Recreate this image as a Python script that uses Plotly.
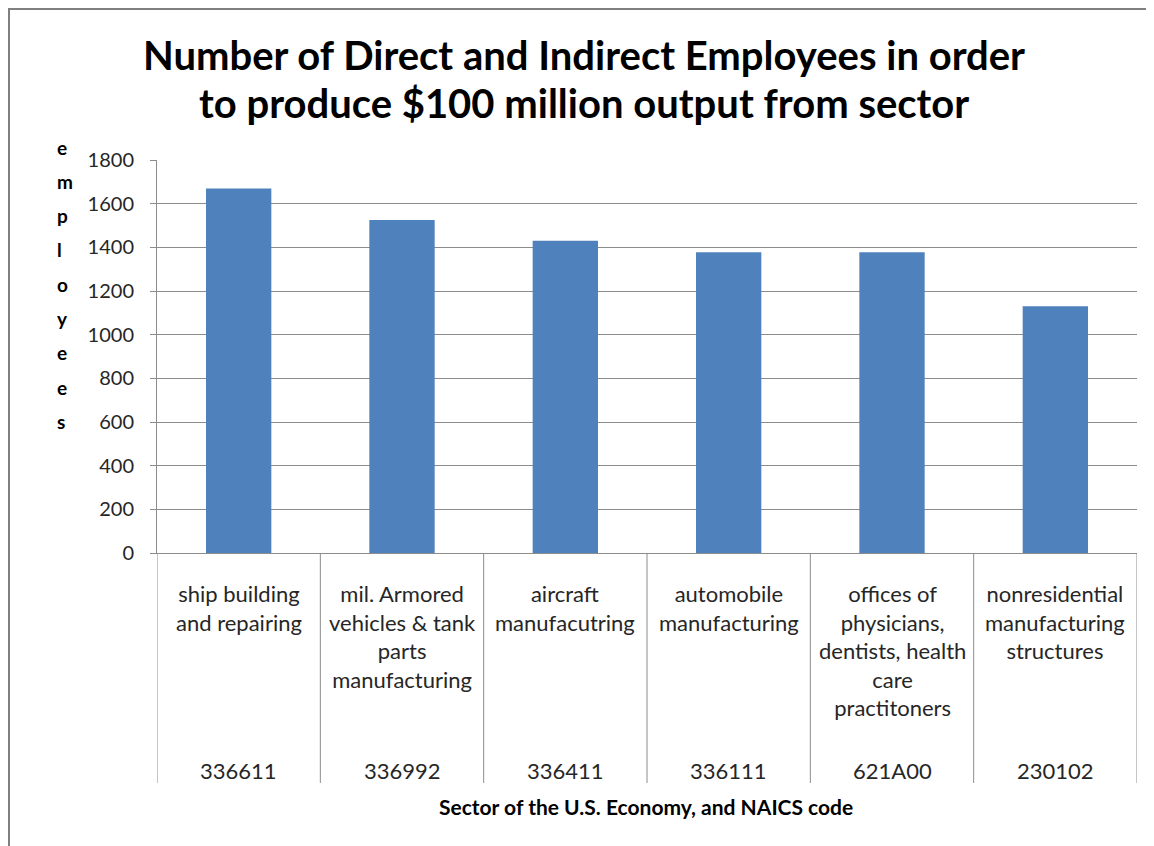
"""
Employees per $100M output by sector - Excel style bar chart with data table
"""

import plotly.graph_objects as go

sectors = [
    'ship building<br>and repairing',
    'mil. Armored<br>vehicles & tank<br>parts<br>manufacturing',
    'aircraft<br>manufacutring',
    'automobile<br>manufacturing',
    'offices of<br>physicians,<br>dentists, health<br>care<br>practitoners',
    'nonresidential<br>manufacturing<br>structures',
]
naics_codes = ['336611', '336992', '336411', '336111', '621A00', '230102']
employees = [1670, 1525, 1430, 1378, 1378, 1130]
y_ticks = [0, 200, 400, 600, 800, 1000, 1200, 1400, 1600, 1800]

OFF = 8                      # page body margin
W, H = 1154 - OFF, 846 - OFF
L, R, T, B = 157 - OFF, 1137 - OFF, 160 - OFF, 553 - OFF   # plot area in pixels
FONT = 'Lato'
GRID = '#8c8c8c'


def py(p):
    """reference pixel row -> paper y"""
    return (B - (p - OFF)) / (B - T)


def px(p):
    """reference pixel column -> paper x"""
    return ((p - OFF) - L) / (R - L)


x_idx = list(range(len(sectors)))

fig = go.Figure()
fig.add_trace(go.Bar(
    x=x_idx,
    y=employees,
    marker=dict(color='#4f81bd', line=dict(width=0)),
    width=0.4,
    showlegend=False,
    hoverinfo='y',
))

# data table under the plot
for i, (name, code) in enumerate(zip(sectors, naics_codes)):
    fig.add_annotation(x=i, y=py(578), xref='x', yref='paper', text=name,
                       showarrow=False, yanchor='top', align='center',
                       font=dict(family=FONT, size=22, color='#262626'))
    fig.add_annotation(x=i, y=py(770), xref='x', yref='paper', text=code,
                       showarrow=False, yanchor='middle',
                       font=dict(family=FONT, size=22, color='#262626'))

shapes = []
for k in range(len(sectors) + 1):
    shapes.append(dict(type='line', xref='x', yref='paper', x0=k - 0.5, x1=k - 0.5,
                       y0=0, y1=py(783), line=dict(color=GRID, width=1)))
# chart outer border
shapes.append(dict(type='rect', xref='paper', yref='paper',
                   x0=px(9), x1=px(1170), y0=py(860), y1=py(9),
                   line=dict(color='#7f7f7f', width=2)))

# vertical y-axis title, one letter per row
for j, ch in enumerate('employees'):
    fig.add_annotation(x=px(55), y=py(147 + j * 34.3), xref='paper', yref='paper',
                       text='<b>' + ch + '</b>', showarrow=False, yanchor='middle',
                       font=dict(family=FONT, size=19, color='#000000'))

fig.add_annotation(x=px(646), y=py(806), xref='paper', yref='paper',
                   text='<b>Sector of the U.S. Economy, and NAICS code</b>',
                   showarrow=False, yanchor='middle',
                   font=dict(family=FONT, size=21, color='#000000'))

fig.add_annotation(x=px(584), y=py(55), xref='paper', yref='paper',
                   text='<b>Number of Direct and Indirect Employees in order</b>',
                   showarrow=False, yanchor='middle',
                   font=dict(family=FONT, size=40, color='#000000'))
fig.add_annotation(x=px(584), y=py(103), xref='paper', yref='paper',
                   text='<b>to produce $100 million output from sector</b>',
                   showarrow=False, yanchor='middle',
                   font=dict(family=FONT, size=40, color='#000000'))

fig.update_layout(
    width=W, height=H,
    margin=dict(l=L, r=W - R, t=T, b=H - B, pad=0),
    paper_bgcolor='white',
    plot_bgcolor='white',
    shapes=shapes,
    bargap=0.6,
    font=dict(family=FONT),
)
fig.update_xaxes(
    range=[-0.5, len(sectors) - 0.5],
    showticklabels=False, showgrid=False, zeroline=False,
    showline=True, linecolor=GRID, linewidth=1, ticks='',
)
fig.update_yaxes(
    range=[0, 1800], tickvals=y_ticks,
    showgrid=True, gridcolor=GRID, gridwidth=1, zeroline=False,
    showline=True, linecolor=GRID, linewidth=1,
    ticks='outside', ticklen=6, tickcolor=GRID,
    ticklabelstandoff=12,
    tickfont=dict(family=FONT, size=20, color='#262626'),
)

fig.write_html('out.html')
